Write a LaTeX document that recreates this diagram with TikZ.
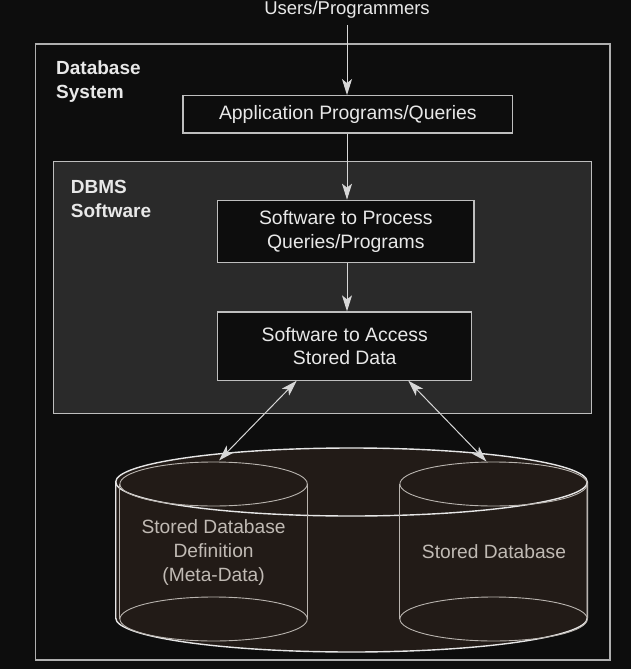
\documentclass[tikz,border=0pt]{standalone}
\usepackage{fontspec}
\setmainfont{Liberation Sans}
\usetikzlibrary{arrows.meta,calc}
\definecolor{bg}{RGB}{13,13,13}
\definecolor{dbmsfill}{RGB}{42,42,42}
\definecolor{boxline}{RGB}{190,190,190}
\definecolor{outerline}{RGB}{175,175,175}
\definecolor{txt}{RGB}{232,232,232}
\definecolor{cyltxt}{RGB}{192,186,180}
\definecolor{cylfill}{RGB}{34,27,23}
\definecolor{cylline}{RGB}{230,230,230}
\definecolor{smallcyl}{RGB}{185,180,175}
\definecolor{arrowcol}{RGB}{215,215,215}
\begin{document}
\begin{tikzpicture}[x=1pt,y=-1pt,
  lbl/.style={font=\fontsize{18.5}{24}\selectfont, text=txt, inner sep=0pt},
  boldlbl/.style={font=\fontsize{19}{24}\selectfont\bfseries, text=txt, inner sep=0pt, align=left},
  procbox/.style={draw=boxline, line width=1.3pt, fill=bg, inner sep=0pt, align=center,
    font=\fontsize{19.4}{23.5}\selectfont, text=txt},
  frame/.style={draw=outerline, line width=1.3pt, inner sep=0pt},
  flow/.style={draw=arrowcol, line width=1pt, -{Stealth[length=16pt,width=10pt,inset=4pt]}},
  bothflow/.style={draw=arrowcol, line width=1pt, {Stealth[length=16pt,width=10pt,inset=4pt]}-{Stealth[length=16pt,width=10pt,inset=4pt]}},
  bigcyl/.style={draw=cylline, line width=1.4pt},
  smcyl/.style={draw=smallcyl, line width=0.9pt},
  cyllbl/.style={font=\fontsize{19.2}{24}\selectfont, text=cyltxt, inner sep=0pt, align=center}
]
\useasboundingbox (0,0) rectangle (631,669);
\fill[bg] (0,0) rectangle (631,669);

% outer system box
\node[frame, minimum width=574.5pt, minimum height=616pt] (sys) at (322.75,352) {};
\node[boldlbl, anchor=north west] (syslbl) at (56,60.3) {Database\\System};

% users text
\node[lbl, anchor=base] (users) at (347,15) {Users/Programmers};

% application box
\node[procbox, minimum width=329.7pt, minimum height=37.3pt] (app) at (347.85,114.35) {Application Programs/Queries};

% DBMS box
\node[draw=boxline, line width=1.3pt, fill=dbmsfill, inner sep=0pt, minimum width=538pt, minimum height=251.6pt] (dbms) at (322.7,287.5) {};
\node[boldlbl, anchor=north west] (dbmslbl) at (70.7,180.5) {DBMS\\Software};

% process and access boxes
\node[procbox, minimum width=256.3pt, minimum height=62pt] (proc) at (345.85,231.3) {Software to Process\\Queries/Programs};
\node[procbox, minimum width=254pt, minimum height=68.5pt] (acc) at (344.7,346.25) {Software to Access\\Stored Data};

% big cylinder
\fill[cylfill] (115.7,482) -- (115.7,618)
  arc[start angle=180,end angle=360,x radius=235.8pt,y radius=34pt]
  -- (587.3,482)
  arc[start angle=0,end angle=180,x radius=235.8pt,y radius=34pt] -- cycle;
\draw[bigcyl] (351.5,482) ellipse [x radius=235.8pt, y radius=34pt];
\draw[bigcyl] (115.7,482) -- (115.7,618)
  arc[start angle=180,end angle=360,x radius=235.8pt,y radius=34pt]
  -- (587.3,482);

% small cylinders
\draw[smcyl] (213.6,484) ellipse [x radius=93.7pt, y radius=22pt];
\draw[smcyl] (213.6,619) ellipse [x radius=93.7pt, y radius=22pt];
\draw[smcyl] (119.9,484) -- (119.9,619) (307.3,484) -- (307.3,619);
\draw[smcyl] (493.6,484) ellipse [x radius=93.7pt, y radius=22pt];
\draw[smcyl] (493.6,619) ellipse [x radius=93.7pt, y radius=22pt];
\draw[smcyl] (399.9,484) -- (399.9,619) (587.3,484) -- (587.3,619);

\node[cyllbl] (meta) at (213.6,553) {Stored Database\\Definition\\(Meta-Data)};
\node[cyllbl] (sdb) at (494,552) {Stored Database};

% connector end points
\coordinate (usersend) at (347,25);
\coordinate (accL) at (296.7,380.7);
\coordinate (accR) at (408.3,380.7);
\coordinate (metatop) at (219,460.5);
\coordinate (sdbtop) at (486.5,461.5);

% arrows
\draw[flow] (usersend) -- (usersend |- app.north);
\draw[flow] (app.south -| usersend) -- (proc.north -| usersend);
\draw[flow] (proc.south -| usersend) -- (acc.north -| usersend);
\draw[bothflow] (accL) -- (metatop);
\draw[bothflow] (accR) -- (sdbtop);
\end{tikzpicture}
\end{document}
